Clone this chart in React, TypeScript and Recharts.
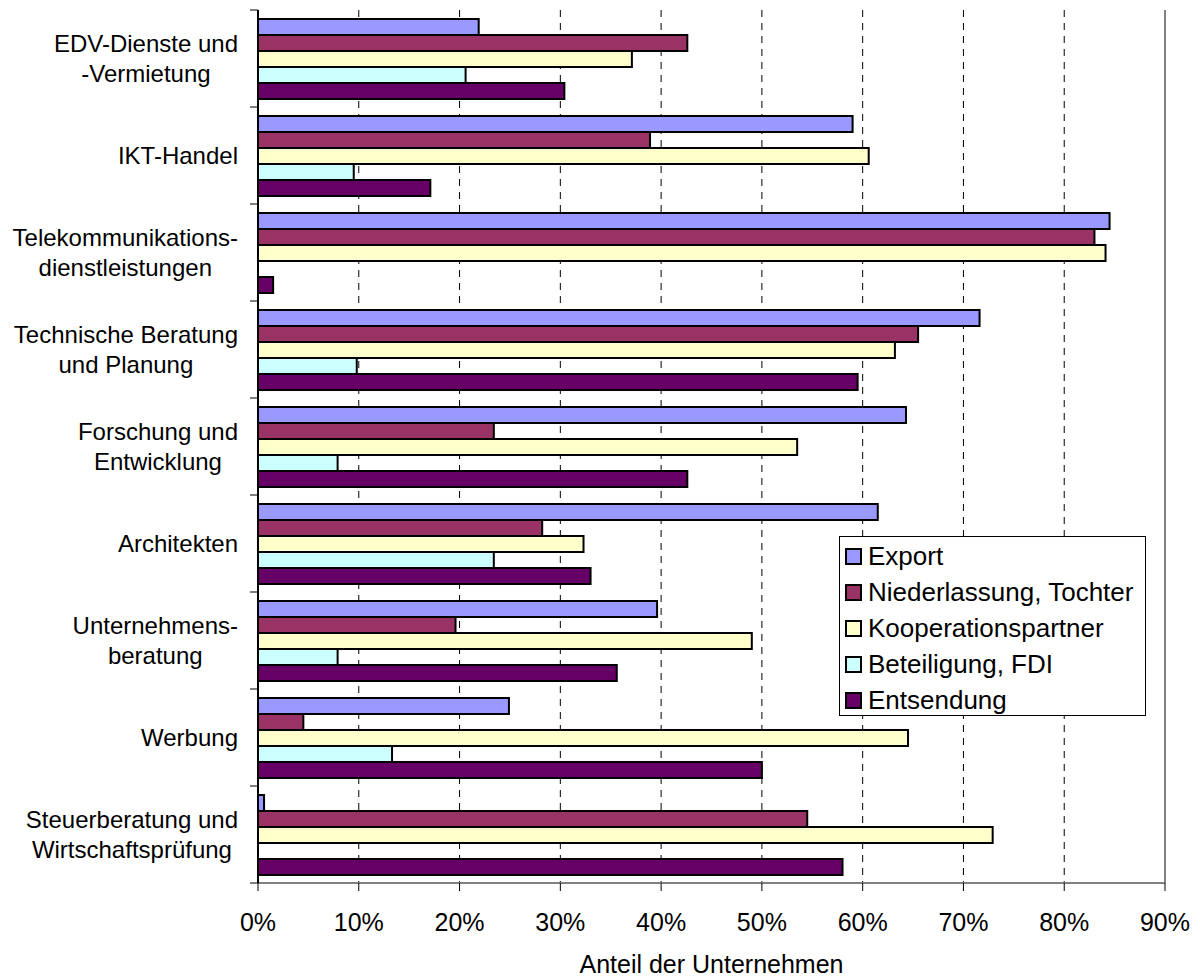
import { BarChart, Bar, XAxis, YAxis, CartesianGrid, Legend, ReferenceLine } from "recharts";

const CATEGORIES = [
  "EDV-Dienste und\n-Vermietung",
  "IKT-Handel",
  "Telekommunikations-\ndienstleistungen",
  "Technische Beratung\nund Planung",
  "Forschung und\nEntwicklung",
  "Architekten",
  "Unternehmens-\nberatung",
  "Werbung",
  "Steuerberatung und\nWirtschaftsprüfung",
];

// Anteil der Unternehmen in %
const EXPORT = [21.9, 59.0, 84.5, 71.6, 64.3, 61.5, 39.6, 24.9, 0.6];
const NIEDERLASSUNG = [42.6, 38.9, 83.0, 65.5, 23.4, 28.2, 19.6, 4.5, 54.5];
const KOOPERATION = [37.1, 60.6, 84.1, 63.2, 53.5, 32.3, 49.0, 64.5, 72.9];
const BETEILIGUNG = [20.6, 9.5, 0, 9.8, 7.9, 23.4, 7.9, 13.3, 0];
const ENTSENDUNG = [30.4, 17.1, 1.5, 59.5, 42.6, 33.0, 35.6, 50.0, 58.0];

const X_TICKS = [0, 10, 20, 30, 40, 50, 60, 70, 80, 90];

const SERIES = [
  { key: "export", name: "Export", color: "#9999FF", values: EXPORT },
  { key: "niederlassung", name: "Niederlassung, Tochter", color: "#993366", values: NIEDERLASSUNG },
  { key: "kooperation", name: "Kooperationspartner", color: "#FFFFCC", values: KOOPERATION },
  { key: "beteiligung", name: "Beteiligung, FDI", color: "#CCFFFF", values: BETEILIGUNG },
  { key: "entsendung", name: "Entsendung", color: "#660066", values: ENTSENDUNG },
];

const data = CATEGORIES.map((name, i) => {
  const row: Record<string, string | number> = { name };
  SERIES.forEach((s) => (row[s.key] = s.values[i]));
  return row;
});

const FONT = "'Liberation Sans', Arial, sans-serif";
const YAXIS_W = 258;
const CAT_FONT = 24;

let ctx: CanvasRenderingContext2D | null = null;
function textWidth(s: string, size: number) {
  if (!ctx) ctx = document.createElement("canvas").getContext("2d");
  if (!ctx) return s.length * size * 0.5;
  ctx.font = `${size}px ${FONT}`;
  return ctx.measureText(s).width;
}

// category labels: block right-aligned, lines centred within the block;
// tick marks sit on the band boundaries like in Excel
function CategoryTick(props: any) {
  const { y, payload, index, visibleTicksCount } = props;
  const lines = String(payload.value).split("\n");
  const half = payload.offset || 48.5;
  const blockW = Math.max(...lines.map((l) => textWidth(l, CAT_FONT)));
  const cx = YAXIS_W - 20 - blockW / 2;
  const lineH = 30;
  const first = y + 8.5 - ((lines.length - 1) * lineH) / 2;
  return (
    <g>
      <line x1={YAXIS_W - 8} x2={YAXIS_W} y1={y - half} y2={y - half} stroke="#000" />
      {index === visibleTicksCount - 1 && (
        <line x1={YAXIS_W - 8} x2={YAXIS_W} y1={y + half} y2={y + half} stroke="#000" />
      )}
      {lines.map((l, i) => (
        <text key={i} x={cx} y={first + i * lineH} textAnchor="middle" fontSize={CAT_FONT} fontFamily={FONT} fill="#000">
          {l}
        </text>
      ))}
    </g>
  );
}

function PercentTick(props: any) {
  const { x, y, payload } = props;
  return (
    <text x={x} y={y} dy={40} textAnchor="middle" fontSize={25} fontFamily={FONT} fill="#000">
      {`${payload.value}%`}
    </text>
  );
}

function LegendBox() {
  return (
    <div
      style={{
        border: "1px solid #000",
        background: "#fff",
        width: 305,
        height: 177,
        boxSizing: "content-box",
        fontFamily: FONT,
        fontSize: 26,
        paddingTop: 1,
      }}
    >
      {SERIES.map((s) => (
        <div key={s.key} style={{ display: "flex", alignItems: "center", height: 36, paddingLeft: 5 }}>
          <span
            style={{
              display: "inline-block",
              width: 13,
              height: 13,
              background: s.color,
              border: "2px solid #000",
              marginRight: 6,
            }}
          />
          <span style={{ lineHeight: "36px" }}>{s.name}</span>
        </div>
      ))}
    </div>
  );
}

export default function App() {
  return (
    <div style={{ width: 1200, height: 980, background: "#fff" }}>
      <style>{"body{margin:0}"}</style>
      <BarChart
        width={1200}
        height={980}
        data={data}
        layout="vertical"
        margin={{ top: 10, right: 35, bottom: 0, left: 0 }}
        barCategoryGap={9}
        barGap={0}
      >
        <CartesianGrid horizontal={false} stroke="#000" strokeDasharray="7 6" />
        <XAxis
          type="number"
          domain={[0, 90]}
          ticks={X_TICKS}
          interval={0}
          height={97}
          tick={<PercentTick />}
          tickSize={8}
          tickMargin={0}
          tickLine={{ stroke: "#000" }}
          axisLine={{ stroke: "#808080", strokeWidth: 2 }}
          label={{
            value: "Anteil der Unternehmen",
            position: "insideBottom",
            offset: 7,
            fontSize: 25,
            fontFamily: FONT,
            fill: "#000",
          }}
        />
        <XAxis
          xAxisId="top"
          orientation="top"
          type="number"
          domain={[0, 90]}
          height={0}
          tick={false}
          tickLine={false}
          axisLine={{ stroke: "#808080", strokeWidth: 2 }}
        />
        <YAxis
          type="category"
          dataKey="name"
          width={YAXIS_W}
          interval={0}
          tick={<CategoryTick />}
          tickLine={false}
          axisLine={{ stroke: "#000", strokeWidth: 2 }}
        />
        <ReferenceLine x={90} stroke="#808080" strokeWidth={2} />
        {SERIES.map((s) => (
          <Bar
            key={s.key}
            dataKey={s.key}
            name={s.name}
            fill={s.color}
            stroke="#000"
            strokeWidth={2}
            isAnimationActive={false}
          />
        ))}
        <Legend
          layout="vertical"
          align="center"
          verticalAlign="middle"
          content={<LegendBox />}
          wrapperStyle={{ position: "absolute", left: 839, top: 536, width: "auto" }}
        />
      </BarChart>
    </div>
  );
}
